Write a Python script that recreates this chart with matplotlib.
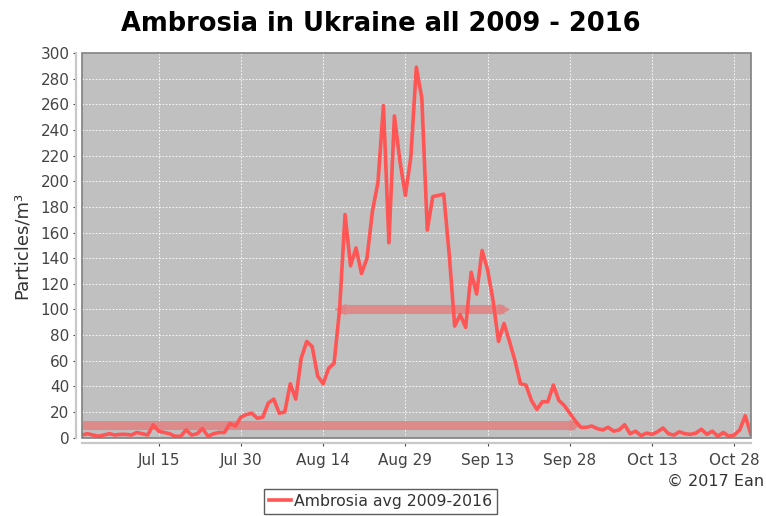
import matplotlib.pyplot as plt
import matplotlib.patches as patches
import numpy as np
import pandas as pd

# daily average, 1 Jul .. 31 Oct
start_date = '2016-07-01'
values = [2, 3, 2, 1, 2, 3, 2, 2.5, 2.5, 2,
          4, 3, 2, 10, 5, 4, 3, 1, 1, 6,
          2, 3, 7, 1, 3, 4, 4, 11, 9, 16,
          18, 19, 15, 16, 27, 30, 19, 20, 42, 30,
          62, 75, 71, 48, 42, 54, 58, 100, 174, 134,
          148, 128, 140, 177, 199, 259, 152, 251, 216, 189,
          219, 289, 265, 162, 188, 189, 190, 143, 87, 96,
          86, 129, 112, 146, 131, 107, 75, 89, 75, 60,
          42, 41, 29, 22, 28, 28, 41, 29, 25, 19,
          13, 8, 8, 9, 7, 6, 8, 5, 6, 10,
          3, 5, 1.5, 3.5, 2.5, 4.5, 7.5, 3, 2, 4.5,
          3, 2.5, 3.5, 6.5, 2.5, 5, 1, 4, 1, 2,
          6, 17, 3]

# season markers: (start, end, level)
season_start = ['2016-07-01', '2016-08-17']
season_end = ['2016-09-29', '2016-09-16']
season_level = [10, 100]

tick_dates = ['2016-07-15', '2016-07-30', '2016-08-14', '2016-08-29',
              '2016-09-13', '2016-09-28', '2016-10-13', '2016-10-28']
tick_labels = ['Jul 15', 'Jul 30', 'Aug 14', 'Aug 29',
               'Sep 13', 'Sep 28', 'Oct 13', 'Oct 28']
y_ticks = list(range(0, 301, 20))

dates = pd.date_range(start_date, periods=len(values))

fig = plt.figure(figsize=(7.66, 5.16), dpi=100)
ax = fig.add_axes([0.107, 0.152, 0.873, 0.745])
ax.set_facecolor('#c0c0c0')

band_color = '#e08585'
for s, e, lev in zip(season_start, season_end, season_level):
    s, e = pd.Timestamp(s), pd.Timestamp(e)
    ax.plot([s, e], [lev, lev], color=band_color, lw=6.5, alpha=0.9,
            solid_capstyle='butt', zorder=2)
    ax.plot([e], [lev], marker='>', ms=9, color=band_color, mec='none',
            alpha=0.9, zorder=2, clip_on=False)
    if s > dates[0]:
        ax.plot([s], [lev], marker='<', ms=9, color=band_color, mec='none',
                alpha=0.9, zorder=2)

ax.plot(dates, values, color='#ff5555', lw=2.6, zorder=3,
        label='Ambrosia avg 2009-2016')

ax.set_xlim(dates[0], dates[-1])
ax.set_ylim(0, 300)
ax.set_yticks(y_ticks)
ax.set_xticks(pd.to_datetime(tick_dates))
ax.set_xticklabels(tick_labels)
ax.tick_params(colors='#444444', labelsize=11, length=2, width=0.8)
ax.tick_params(axis='x', pad=5)
ax.tick_params(axis='y', pad=3)

ax.grid(True, color='white', linestyle=(0, (2, 2)), linewidth=0.6)
ax.set_axisbelow(True)

for side in ['top', 'right']:
    ax.spines[side].set_visible(False)
for side in ['left', 'bottom']:
    ax.spines[side].set_position(('outward', 4))
    ax.spines[side].set_color('#c8c8c8')
    ax.spines[side].set_linewidth(1.6)

# plot border
ax.add_patch(patches.Rectangle((0, 0), 1, 1, transform=ax.transAxes,
                               fill=False, edgecolor='#808080', lw=1.2,
                               zorder=4, clip_on=False))

ax.set_ylabel('Particles/m³', fontsize=13, color='#333333', labelpad=7)
fig.suptitle('Ambrosia in Ukraine all 2009 - 2016', fontsize=18.5,
             fontweight='bold', x=0.497, y=0.978)

fig.text(0.998, 0.068, '© 2017 Ean', ha='right', va='center',
         fontsize=11.5, color='#333333')

leg = fig.legend(loc='upper center', bbox_to_anchor=(0.4965, 0.052),
                 frameon=True, fancybox=False, fontsize=11.3, handlelength=1.4,
                 handletextpad=0.2, borderpad=0.3, borderaxespad=0)
leg.get_frame().set_edgecolor('#333333')
leg.get_frame().set_linewidth(1.0)
for t in leg.get_texts():
    t.set_color('#333333')

fig.savefig('out.png', dpi=100)
